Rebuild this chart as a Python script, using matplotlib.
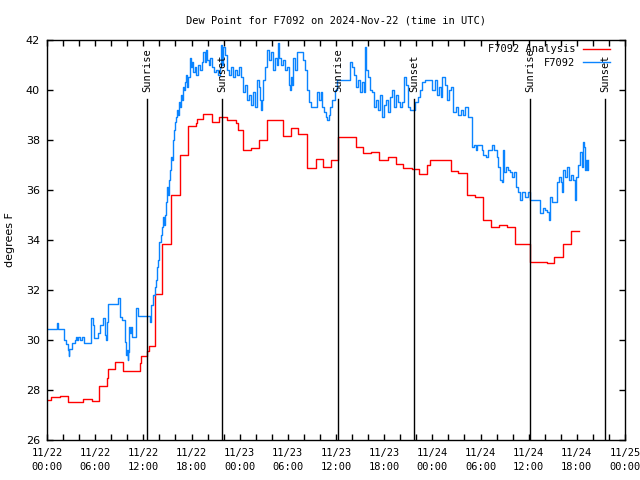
import matplotlib
matplotlib.use("Agg")
import matplotlib.pyplot as plt
import matplotlib.dates as mdates
import numpy as np
import datetime as dt

# ---- data (hours since 2024-11-22 00:00 UTC) ----
analysis_h = [0.0, 0.5, 1.6, 2.6, 4.5, 5.6, 6.5, 7.45, 7.6, 8.5, 9.45, 11.55, 11.7, 12.45, 12.7,
              13.45, 14.35, 15.45, 16.55, 17.55, 18.5, 18.65, 19.45, 20.55, 21.45, 22.45, 23.5,
              23.75, 24.4, 25.4, 26.4, 27.4, 29.4, 30.4, 31.3, 32.4, 33.5, 34.4, 35.4, 36.25,
              38.45, 39.35, 40.35, 41.35, 42.45, 43.45, 44.35, 45.45, 46.35, 47.3, 47.7, 50.3,
              51.2, 52.3, 53.3, 54.3, 55.3, 56.3, 57.3, 58.3, 60.15, 62.25, 63.15, 64.25, 65.25,
              66.25]
analysis_v = [27.60, 27.71, 27.77, 27.52, 27.63, 27.56, 28.16, 28.48, 28.84, 29.12, 28.76, 29.08,
              29.36, 29.56, 29.76, 31.84, 33.84, 35.8, 37.4, 38.56, 38.69, 38.83, 39.04, 38.72,
              38.93, 38.8, 38.67, 38.4, 37.6, 37.67, 38.0, 38.8, 38.16, 38.47, 38.23, 36.89,
              37.24, 36.93, 37.2, 38.13, 37.71, 37.47, 37.51, 37.2, 37.31, 37.03, 36.87, 36.84,
              36.63, 37.0, 37.2, 36.76, 36.67, 35.8, 35.73, 34.8, 34.51, 34.6, 34.51, 33.84,
              33.1, 33.07, 33.31, 33.84, 34.35, 34.35]

obs_h = [0.00, 1.25, 1.41, 2.15, 2.33, 2.58, 2.68, 2.74, 3.08, 3.49, 3.61, 3.74, 3.90, 4.11, 4.40,
         4.64, 5.48, 5.67, 5.89, 6.31, 6.60, 7.01, 7.22, 7.35, 7.47, 7.63, 8.88, 9.05, 9.34, 9.71,
         9.84, 9.96, 10.05, 10.12, 10.21, 10.34, 10.46, 10.62, 11.05, 11.37, 12.89, 13.01,
         13.20, 13.45, 13.57, 13.70, 13.86, 14.01, 14.20, 14.32, 14.45, 14.57, 14.69, 14.82,
         14.94, 15.07, 15.19, 15.32, 15.44, 15.57, 15.69, 15.82, 15.94, 16.06, 16.19, 16.31,
         16.44, 16.56, 16.69, 16.81, 16.94, 17.06, 17.19, 17.31, 17.43, 17.56, 17.81, 17.93,
         18.06, 18.18, 18.43, 18.55, 18.80, 19.05, 19.30, 19.43, 19.68, 19.80, 19.92, 20.17,
         20.30, 20.55, 20.80, 21.05, 21.29, 21.54, 21.67, 21.79, 21.92, 22.17, 22.42, 22.66,
         22.91, 23.16, 23.41, 23.66, 23.91, 24.16, 24.41, 24.66, 24.91, 25.16, 25.40, 25.65,
         25.90, 26.15, 26.40, 26.52, 26.65, 26.77, 26.90, 27.15, 27.40, 27.65, 27.90, 28.14,
         28.39, 28.64, 28.77, 28.89, 29.14, 29.39, 29.64, 29.89, 30.14, 30.26, 30.39, 30.51,
         30.63, 30.88, 31.13, 31.88, 32.13, 32.38, 32.63, 32.88, 33.62, 33.87, 34.12, 34.25,
         34.49, 34.74, 34.87, 35.12, 35.24, 35.49, 35.86, 36.11, 36.48, 37.73, 37.98, 38.23,
         38.48, 38.73, 38.98, 39.23, 39.48, 39.60, 39.73, 39.97, 40.22, 40.47, 40.72, 40.97,
         41.22, 41.47, 41.72, 41.97, 42.22, 42.46, 42.71, 42.96, 43.21, 43.46, 43.71, 43.96,
         44.21, 44.46, 44.71, 44.96, 45.20, 45.83, 46.20, 46.45, 46.70, 47.07, 47.94, 48.32,
         48.57, 48.82, 49.06, 49.19, 49.56, 49.81, 50.06, 50.31, 50.56, 50.93, 51.18, 51.56,
         51.80, 52.05, 52.43, 52.92, 52.99, 53.17, 53.42, 53.55, 54.17, 54.29, 54.67, 54.92,
         55.42, 55.66, 55.91, 56.04, 56.16, 56.41, 56.66, 56.79, 56.91, 57.16, 57.41, 57.66,
         57.91, 58.16, 58.41, 58.65, 58.90, 59.15, 59.53, 59.90, 60.15, 61.39, 61.77, 62.01,
         62.26, 62.51, 62.64, 62.89, 63.51, 63.76, 64.01, 64.13, 64.26, 64.51, 64.76, 65.00,
         65.25, 65.50, 65.75, 65.88, 66.13, 66.37, 66.62, 66.75, 66.87, 67.00, 67.12, 67.25,
         67.37]
obs_v = [30.43, 30.69, 30.43, 30.0, 29.84, 29.6, 29.36, 29.63, 29.87, 30.0, 30.13, 30.0, 30.13,
         30.0, 30.13, 29.87, 30.87, 30.6, 30.07, 30.27, 30.6, 30.87, 30.2, 30.0, 30.7, 31.44,
         31.67, 30.93, 30.8, 29.9, 29.4, 29.6, 29.2, 29.5, 30.5, 30.27, 30.5, 30.13, 31.27, 30.96,
         30.73, 31.4, 31.8, 32.1, 32.4, 32.9, 33.2, 33.9, 34.2, 34.5, 34.9, 34.6, 35.0, 35.5,
         36.1, 35.8, 36.4, 36.8, 37.3, 37.2, 38.0, 38.4, 38.7, 38.9, 39.2, 39.0, 39.5, 39.3,
         39.8, 39.6, 40.1, 40.0, 40.3, 40.6, 40.1, 40.5, 41.3, 40.9, 41.1, 40.7, 40.9, 40.6,
         41.0, 40.8, 41.1, 41.5, 41.1, 41.6, 41.2, 41.0, 41.3, 40.9, 40.7, 40.8, 40.6, 40.9,
         41.8, 41.0, 41.7, 41.4, 40.8, 40.6, 40.9, 40.5, 40.8, 40.6, 40.9, 40.5, 39.9, 40.2,
         39.6, 39.8, 39.4, 39.9, 39.3, 40.4, 40.1, 39.6, 39.2, 39.6, 40.4, 40.9, 41.6, 41.2,
         41.5, 40.8, 41.3, 41.0, 41.9, 41.3, 41.0, 41.2, 40.8, 40.9, 40.2, 40.0, 40.5, 40.2,
         41.3, 40.8, 41.5, 41.2, 40.8, 40.0, 39.5, 39.3, 39.9, 39.6, 39.9, 39.3, 39.1, 38.9,
         38.8, 39.0, 39.3, 39.6, 40.0, 40.4, 40.4, 41.1, 40.9, 40.6, 40.1, 40.4, 39.9, 40.3,
         39.9, 41.7, 40.8, 40.5, 40.0, 39.9, 39.3, 39.6, 39.2, 39.8, 38.9, 39.4, 39.6, 39.1,
         39.7, 40.0, 39.3, 39.8, 39.5, 39.3, 39.5, 40.5, 40.2, 39.3, 39.2, 39.5, 39.7, 40.0,
         40.3, 40.4, 40.0, 40.4, 39.8, 40.1, 39.7, 40.5, 40.2, 39.6, 40.0, 40.1, 39.1, 39.3,
         39.0, 39.2, 39.0, 39.3, 38.9, 38.4, 37.7, 37.8, 37.6, 37.8, 37.6, 37.4, 37.3, 37.6,
         37.8, 37.6, 37.6, 37.3, 36.9, 36.4, 36.3, 37.6, 36.7, 36.9, 36.8, 36.7, 36.5, 36.7,
         36.1, 35.9, 35.6, 35.9, 35.7, 35.9, 35.6, 35.07, 35.3, 35.2, 35.1, 34.8, 35.7, 35.5,
         36.3, 36.5, 36.3, 35.9, 36.8, 36.5, 36.9, 36.4, 36.6, 36.4, 35.6, 36.5, 37.0, 37.5,
         36.9, 37.9, 37.7, 36.8, 37.2, 36.8, 37.2]

sunrise_h = [12.5, 36.3, 60.15]
sunset_h = [21.83, 45.74, 69.53]

title = "Dew Point for F7092 on 2024-Nov-22 (time in UTC)"
ylabel = "degrees F"
series_names = ["F7092 Analysis", "F7092"]

start = dt.datetime(2024, 11, 22, 0, 0)
def to_dt(hs):
    return [start + dt.timedelta(hours=h) for h in hs]

mono = "DejaVu Sans Mono"
fig = plt.figure(figsize=(6.4, 4.8), dpi=100)
ax = fig.add_axes([47/640, 40/480, 578/640, 400/480])

ax.plot(to_dt(analysis_h), analysis_v, drawstyle="steps-post", color="#ff0000", lw=1.0,
        label=series_names[0])
ax.plot(to_dt(obs_h), obs_v, drawstyle="steps-post", color="#0a84ff", lw=1.0,
        label=series_names[1])

for h in sunrise_h:
    d = start + dt.timedelta(hours=h)
    ax.plot([d, d], [26, 39.65], color="black", lw=1.0)
    ax.text(d, 39.93, "Sunrise", rotation=90, ha="center", va="bottom",
            fontsize=7.5, family=mono)
for h in sunset_h:
    d = start + dt.timedelta(hours=h)
    ax.plot([d, d], [26, 39.65], color="black", lw=1.0)
    ax.text(d, 39.93, "Sunset", rotation=90, ha="center", va="bottom",
            fontsize=7.5, family=mono)

ax.set_xlim(start, start + dt.timedelta(hours=72))
ax.set_ylim(26, 42)
ax.set_yticks(np.arange(26, 43, 2))
ax.xaxis.set_major_locator(mdates.HourLocator(byhour=[0, 6, 12, 18]))
ax.xaxis.set_major_formatter(mdates.DateFormatter("%m/%d\n%H:%M"))
ax.xaxis.set_minor_locator(mdates.HourLocator(byhour=range(0, 24, 2)))
ax.tick_params(axis="both", which="both", direction="in", top=True, right=True,
               length=4, width=1)
ax.tick_params(axis="x", which="major", labelsize=7.5, pad=6)
ax.tick_params(axis="y", which="major", labelsize=8, pad=5)
fig.canvas.draw()
for lab in ax.get_xticklabels():
    lab.set_family(mono)
    lab.set_linespacing(1.45)
for sp in ax.spines.values():
    sp.set_linewidth(1.0)

ax.set_title(title, fontsize=7.5, family=mono, pad=12)
ax.set_ylabel(ylabel, fontsize=8, labelpad=8)

leg = ax.legend(loc="upper right", bbox_to_anchor=(0.9775, 0.994), markerfirst=False,
                frameon=False, prop={"family": mono, "size": 7.5}, handlelength=2.6,
                handletextpad=0.7, labelspacing=0.35, borderaxespad=0.0, borderpad=0.2)

fig.savefig("out.png", dpi=100)
